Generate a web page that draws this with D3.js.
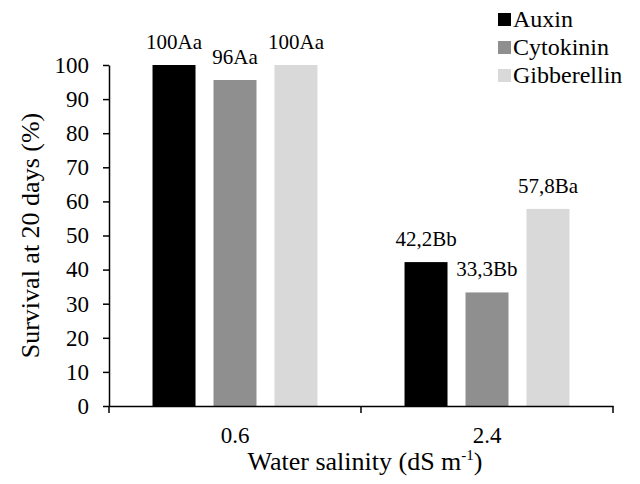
<!DOCTYPE html>
<html>
<head>
<meta charset="utf-8">
<script src="https://cdn.jsdelivr.net/npm/d3@7"></script>
<style>
  body { margin: 0; background: #fff; }
  svg text { font-family: "Liberation Serif", "Times New Roman", serif; fill: #000; }
</style>
</head>
<body>
<div class="chart"></div>
<script>
var salinity = ["0.6", "2.4"];
var series = ["Auxin", "Cytokinin", "Gibberellin"];
var colors = ["#000000", "#8f8f8f", "#d9d9d9"];
var values = [
  [100, 95.6, 100],
  [42.2, 33.3, 57.8]
];
var labels = [
  ["100Aa", "96Aa", "100Aa"],
  ["42,2Bb", "33,3Bb", "57,8Ba"]
];
var yTicks = [0, 10, 20, 30, 40, 50, 60, 70, 80, 90, 100];

var svgWidth = 640;
var svgHeight = 484;
var serif = "'Liberation Serif', 'Times New Roman', serif";

var margin = { top: 65, right: 27, bottom: 78, left: 109 };
var width = svgWidth - margin.left - margin.right;
var height = svgHeight - margin.top - margin.bottom;

var svg = d3.select(".chart")
  .append("svg")
  .attr("width", svgWidth)
  .attr("height", svgHeight)
  .attr("font-family", serif);

var chartGroup = svg.append("g")
  .attr("transform", `translate(${margin.left}, ${margin.top})`);

var x0 = d3.scaleBand()
  .domain(salinity)
  .range([0, width])
  .paddingInner(0.274)
  .paddingOuter(0.137);

var x1 = d3.scaleBand()
  .domain(series)
  .range([0, x0.bandwidth()])
  .paddingInner(0.295)
  .paddingOuter(0.1475);

var y = d3.scaleLinear()
  .domain([0, 100])
  .range([height, 0]);

// bars
salinity.forEach(function(cat, i) {
  var g = chartGroup.append("g")
    .attr("transform", `translate(${x0(cat)}, 0)`);
  series.forEach(function(s, j) {
    g.append("rect")
      .attr("x", x1(s))
      .attr("y", y(values[i][j]))
      .attr("width", x1.bandwidth())
      .attr("height", height - y(values[i][j]))
      .attr("fill", colors[j]);
    g.append("text")
      .attr("x", x1(s) + x1.bandwidth() / 2)
      .attr("y", y(values[i][j]) - 16)
      .attr("text-anchor", "middle")
      .style("font-size", "21px")
      .text(labels[i][j]);
  });
});

// y axis
var leftAxis = d3.axisLeft(y)
  .tickValues(yTicks)
  .tickSize(6)
  .tickPadding(14)
  .tickSizeOuter(0);

var yAxis = chartGroup.append("g").call(leftAxis).attr("font-family", serif);
yAxis.select(".domain").attr("stroke", "#000").attr("stroke-width", 1.5);
yAxis.selectAll(".tick line").attr("stroke", "#000").attr("stroke-width", 1.5);
yAxis.selectAll(".tick text")
  .style("font-family", serif)
  .style("font-size", "23px");

// x axis (Excel style: ticks between categories)
var bottomAxis = d3.axisBottom(x0).tickSize(0).tickPadding(21).tickSizeOuter(0);
var xAxis = chartGroup.append("g")
  .attr("transform", `translate(0, ${height})`)
  .call(bottomAxis)
  .attr("font-family", serif);
xAxis.select(".domain").attr("stroke", "#000").attr("stroke-width", 1.5);
xAxis.selectAll(".tick text")
  .style("font-family", serif)
  .style("font-size", "23px");

var step = x0.step();
var bounds = [0].concat(salinity.map(function(c) { return x0(c) - x0.paddingOuter() * step + step; }));
xAxis.selectAll(".sep")
  .data(bounds)
  .enter()
  .append("line")
  .attr("x1", d => d)
  .attr("x2", d => d)
  .attr("y1", 0)
  .attr("y2", 7)
  .attr("stroke", "#000")
  .attr("stroke-width", 1.5);

// axis titles
chartGroup.append("text")
  .attr("transform", "rotate(-90)")
  .attr("x", -height / 2)
  .attr("y", -margin.left + 39)
  .attr("text-anchor", "middle")
  .style("font-size", "26px")
  .text("Survival at 20 days (%)");

var xt = chartGroup.append("text")
  .attr("x", width / 2 + 4)
  .attr("y", height + 64)
  .attr("text-anchor", "middle")
  .style("font-size", "26px");
xt.append("tspan").text("Water salinity (dS m");
xt.append("tspan").attr("dy", -10).style("font-size", "15px").text("-1");
xt.append("tspan").attr("dy", 10).text(")");

// legend
var legend = svg.append("g")
  .attr("transform", "translate(498, 27)");
series.forEach(function(s, j) {
  legend.append("rect")
    .attr("x", 0)
    .attr("y", j * 28 - 14)
    .attr("width", 13)
    .attr("height", 13)
    .attr("fill", colors[j]);
  legend.append("text")
    .attr("x", 15)
    .attr("y", j * 28)
    .style("font-size", "24px")
    .text(s);
});
</script>
</body>
</html>
